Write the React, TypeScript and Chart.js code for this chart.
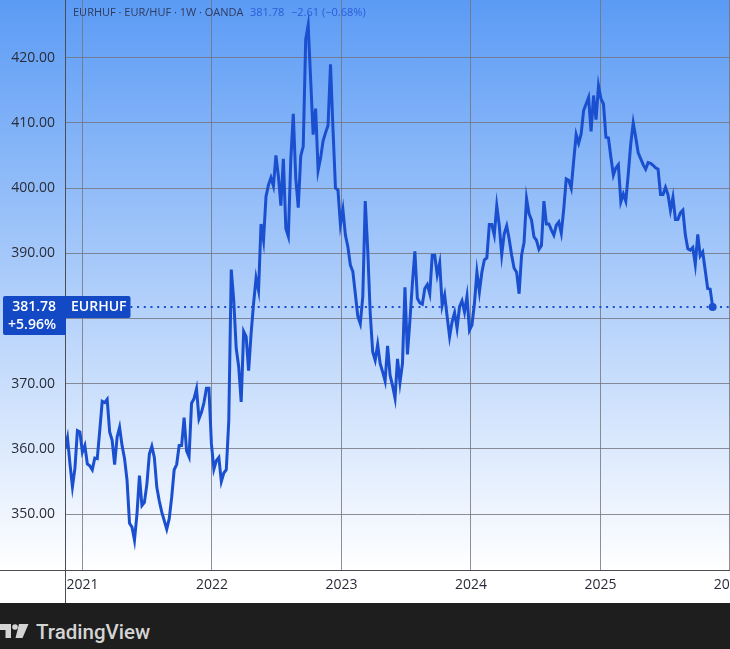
import React, { useEffect, useRef } from "react";
import { Chart, registerables } from "chart.js";

Chart.register(...registerables);

const symbol = "EURHUF";
const headerLeft = "EURHUF · EUR/HUF · 1W · OANDA";
const headerPrice = "381.78";
const headerChange = "−2.61";
const headerPercent = "(−0.68%)";
const lastPrice = 381.78;
const lastLabel = "381.78";
const percentLabel = "+5.96%";
const brand = "TradingView";

const xTicks = [2021, 2022, 2023, 2024, 2025, 2026];
const yTicks = [350, 360, 370, 380, 390, 400, 410, 420];

const values2021 = [
  360, 361.7, 357.7, 354.2, 357, 362.8, 362.6, 359.5, 360.5, 357.7, 357.4, 356.8, 358.6, 358.5, 362.8, 367.3, 367.1, 367.6,
  362.6, 361.3, 357.6, 361.8, 363.3, 360.5, 358.5, 355.2, 348.6, 348, 346, 350, 355.9, 351.3, 351.8, 354.6, 359.2, 360.4,
  358.7, 354.1, 352, 350.3, 349, 347.7, 349.3, 352.6, 356.8, 357.6, 360.5, 360.5, 364.8, 359.7, 358.8, 367, 367.7, 369.2,
  364.6, 365.6, 367.1, 369.3, 369.3, 360.8,
];
const values2022 = [
  356.9, 358.2, 358.7, 355, 356.3, 356.8, 364.3, 387.5, 382.8, 375.4, 372.6, 367.2, 378, 377.2, 372, 377.7, 382.3, 386.2,
  384.3, 394.5, 392, 398.7, 400.5, 401.6, 400.3, 405, 401.8, 397.3, 404.5, 393.8, 392.6, 404.4, 411.4, 401.5, 397, 404.9,
  406.4, 422.8, 425, 416.7, 408.2, 412.2, 402.7, 404.6, 407.2, 408.5, 409.6, 419, 409, 400, 399.7, 394.4,
];
const values2023 = [
  396.7, 392.8, 391, 388.2, 387.2, 383.8, 380.3, 379.2, 383.3, 398, 390.5, 380.8, 374.9, 373.6, 376, 373.1, 371.8, 370.4,
  375.8, 371.3, 369.7, 367.8, 373.8, 370.2, 373.1, 384.8, 374.5, 379.7, 385.4, 390.3, 383.1, 382.4, 382.2, 384.6, 385.2,
  383.8, 389.7, 389.7, 386.7, 388.5, 382, 383.6, 380.3, 377.2, 379.5, 380.9, 378.5, 381.8, 382.7, 381, 383.4, 378.2,
];
const values2024 = [
  379, 382.3, 387.1, 384.1, 387.1, 389, 389.3, 394.4, 394.4, 392.8, 397.3, 394.3, 389.8, 393, 394.2, 392.2, 389.7, 387.7,
  387.1, 383.8, 389.7, 391.7, 398.4, 396.1, 395.1, 392.5, 392, 390.6, 391.2, 398, 394.5, 394.5, 393.6, 392.8, 394.3, 394.8,
  393.1, 396.8, 401.4, 401.2, 400, 404.2, 408.2, 406.9, 408.3, 411.9, 412.9, 413.9, 408.7, 414.2, 410.5, 415.7,
];
const values2025 = [
  413.7, 412.9, 407.8, 407.7, 404.7, 402, 403.1, 403.6, 397.9, 399.1, 398, 402.2, 406.8, 410, 407.8, 405.4, 404.5, 403.6,
  402.9, 403.9, 403.8, 403.5, 403.1, 402.9, 399, 399, 400.1, 399, 396.6, 398.6, 395.2, 395.2, 396.2, 396.6, 392.8, 390.7,
  390.5, 390.9, 388.3, 392.9, 389.6, 390.2, 387.4, 384.6, 384.5, 381.78,
];

const weeklyValues = [...values2021, ...values2022, ...values2023, ...values2024, ...values2025];
const firstWeek = 2020.865;
const weekStep = 7 / 365.25;
const priceLineRange = [2021.37, 2026.31];

const BLUE = "#1a4fd0";
const LABEL_BLUE = "#1449c6";
const INK = "#2a2d38";
const TOP_BLEED = 4;

const overlay = {
  id: "overlay",
  beforeDraw(chart: any) {
    const { ctx, width, height, chartArea } = chart;
    const g = ctx.createLinearGradient(0, TOP_BLEED, 0, chartArea.bottom);
    g.addColorStop(0, "#5b9bf5");
    g.addColorStop(1, "#ffffff");
    ctx.save();
    ctx.fillStyle = "#ffffff";
    ctx.fillRect(0, 0, width, height);
    ctx.fillStyle = g;
    ctx.fillRect(0, 0, width, chartArea.bottom);
    ctx.restore();
  },
  afterDraw(chart: any) {
    const { ctx, chartArea, height, scales } = chart;
    const left = chartArea.left + 0.5;
    const bottom = Math.round(chartArea.bottom) + 0.5;
    ctx.save();
    ctx.strokeStyle = "#4a4d55";
    ctx.lineWidth = 1;
    ctx.beginPath();
    ctx.moveTo(left, 0);
    ctx.lineTo(left, height);
    ctx.moveTo(0, bottom);
    ctx.lineTo(730, bottom);
    ctx.stroke();

    const headerY = TOP_BLEED + 12.5;
    ctx.font = "11px 'Open Sans'";
    ctx.textBaseline = "middle";
    ctx.textAlign = "left";
    ctx.fillStyle = "#2f3a5c";
    ctx.fillText(headerLeft, 73, headerY);
    ctx.fillStyle = "#2a5cd6";
    ctx.fillText(headerPrice, 250, headerY);
    ctx.fillText(headerChange, 291, headerY);
    ctx.fillText(headerPercent, 322, headerY);

    const y = scales.y.getPixelForValue(lastPrice);
    ctx.fillStyle = LABEL_BLUE;
    ctx.beginPath();
    ctx.roundRect(3, y - 11, chartArea.left - 3 + 1, 39, [2, 0, 0, 2]);
    ctx.fill();
    ctx.beginPath();
    ctx.roundRect(chartArea.left, y - 11, 65.5, 22, [0, 2, 2, 0]);
    ctx.fill();
    ctx.fillStyle = "#ffffff";
    ctx.font = "600 14px 'Open Sans'";
    ctx.textAlign = "right";
    ctx.fillText(lastLabel, 56, y + 0.5);
    ctx.fillText(percentLabel, 56, y + 18);
    ctx.textAlign = "left";
    ctx.fillText(symbol, 71, y + 0.5);
    ctx.restore();
  },
};

export default function App() {
  const ref = useRef<HTMLCanvasElement | null>(null);

  useEffect(() => {
    if (!ref.current) return;
    const points = weeklyValues.map((v, i) => ({ x: firstWeek + i * weekStep, y: v }));
    const chart = new Chart(ref.current, {
      type: "line",
      data: {
        datasets: [
          {
            label: "EURHUF",
            data: points,
            borderColor: BLUE,
            backgroundColor: BLUE,
            borderWidth: 3,
            tension: 0,
            pointRadius: (c: any) => (c.dataIndex === weeklyValues.length - 1 ? 4 : 0),
            pointBorderWidth: 0,
            order: 1,
          },
          {
            label: "Last price",
            data: priceLineRange.map((x) => ({ x, y: lastPrice })),
            borderColor: BLUE,
            borderWidth: 2,
            borderDash: [2, 4.7],
            pointRadius: 0,
            order: 2,
          },
        ],
      },
      options: {
        animation: false,
        responsive: false,
        devicePixelRatio: 1,
        layout: { padding: 0 },
        plugins: { legend: { display: false }, tooltip: { enabled: false } },
        scales: {
          x: {
            type: "linear",
            min: firstWeek,
            max: 2026.31,
            afterBuildTicks: (s: any) => {
              s.ticks = xTicks.map((value) => ({ value }));
            },
            afterFit: (s: any) => {
              s.height = 33.5;
              s.paddingLeft = 0;
              s.paddingRight = 0;
            },
            grid: { color: "rgba(115,115,125,0.8)", lineWidth: 1, drawTicks: false },
            border: { display: false },
            ticks: {
              autoSkip: false,
              maxRotation: 0,
              padding: 7,
              color: INK,
              font: { family: "'Open Sans'", size: 14 },
              callback: (v: any) => String(v),
            },
          },
          y: {
            type: "linear",
            min: 341.5,
            max: 428.85,
            afterBuildTicks: (s: any) => {
              s.ticks = yTicks.map((value) => ({ value }));
            },
            afterFit: (s: any) => {
              s.width = 65;
              s.paddingTop = 0;
              s.paddingBottom = 0;
            },
            grid: { color: "rgba(115,115,125,0.8)", lineWidth: 1, drawTicks: false },
            border: { display: false },
            ticks: {
              padding: 10,
              color: INK,
              font: { family: "'Open Sans'", size: 14 },
              callback: (v: any) => Number(v).toFixed(2),
            },
          },
        },
      },
      plugins: [overlay],
    } as any);
    return () => chart.destroy();
  }, []);

  return (
    <div style={{ position: "absolute", left: 0, top: 0, width: 730, height: 649, overflow: "hidden", background: "#1e1e1e" }}>
      <canvas ref={ref} width={774} height={603 + TOP_BLEED} style={{ display: "block", position: "absolute", left: 0, top: -TOP_BLEED, width: 774, height: 603 + TOP_BLEED }} />
      <div style={{ position: "absolute", left: 0, top: 603, width: 730, height: 46, background: "#1e1e1e" }}>
        <svg width="30" height="16" viewBox="0 0 30 16" style={{ position: "absolute", left: 0, top: 21 }}>
          <path d="M0 0H11V14H5.5V6H0Z M19 0H28.5L22.5 14H15.5Z" fill="#d4d4d4" />
          <circle cx="15" cy="3" r="2.8" fill="#d4d4d4" />
        </svg>
        <span style={{ position: "absolute", left: 36, top: 16, color: "#d4d4d4", font: "500 20.5px Roboto", lineHeight: "26px", whiteSpace: "nowrap" }}>{brand}</span>
      </div>
    </div>
  );
}
